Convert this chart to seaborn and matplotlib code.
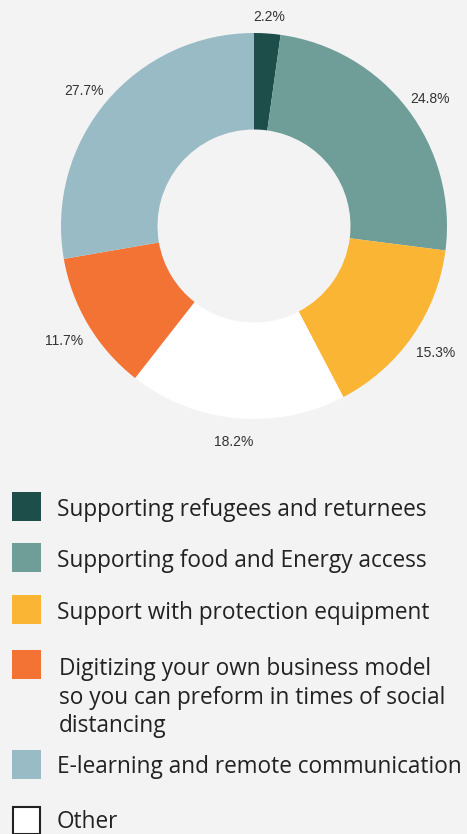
import matplotlib
matplotlib.use("Agg")
import numpy as np
import matplotlib.pyplot as plt
from matplotlib.patches import Rectangle
import seaborn as sns

# data (clockwise from top)
categories = ["Supporting refugees and returnees",
              "Supporting food and Energy access",
              "Support with protection equipment",
              "Other",
              "Digitizing your own business model",
              "E-learning and remote communication"]
shares = [2.2, 24.8, 15.3, 18.2, 11.7, 27.7]
slice_colors = ["#1d4e4a", "#6f9e99", "#fbb535", "#ffffff", "#f37335", "#98bbc6"]

# legend order and text as in the picture
legend_labels = ["Supporting refugees and returnees",
                 "Supporting food and Energy access",
                 "Support with protection equipment",
                 "Digitizing your own business model\nso you can preform in times of social\ndistancing",
                 "E-learning and remote communication",
                 "Other"]
legend_colors = ["#1d4e4a", "#6f9e99", "#fbb535", "#f37335", "#98bbc6", "#ffffff"]

sns.set_style("white")
plt.rcParams['font.family'] = ['Open Sans', 'DejaVu Sans']

bg = "#f3f3f3"
W, H = 467, 834
fig = plt.figure(figsize=(W / 100, H / 100), dpi=100, facecolor=bg)

# donut axes: centre (254, 226) px, radius 193 px
cx, cy, R = 254, 226, 193
L = 1.2
side = 2 * L * R
ax = fig.add_axes([(cx - side / 2) / W, 1 - (cy + side / 2) / H, side / W, side / H])
ax.patch.set_alpha(0)
wedges, _ = ax.pie(shares, colors=slice_colors, startangle=90, counterclock=False,
                   wedgeprops=dict(width=0.5, linewidth=0))
ax.set_xlim(-L, L)
ax.set_ylim(-L, L)
ax.set_aspect("equal")
ax.axis("off")

# percentage labels just outside the ring, pushed out by the text box
renderer = fig.canvas.get_renderer()
gap = 9 / R
for w, v in zip(wedges, shares):
    a = np.deg2rad((w.theta1 + w.theta2) / 2)
    t = ax.text(0, 0, f"{v:.1f}%", fontsize=10, color="#333333",
                family="Liberation Sans", ha="center", va="center")
    bb = t.get_window_extent(renderer)
    tw, th = bb.width / R, bb.height / R
    r = 1 + gap
    x = r * np.cos(a) + tw / 2 * np.cos(a)
    y = r * np.sin(a) + th / 2 * np.sin(a)
    if np.sin(a) < 0:
        y -= th * 0.55
    t.set_position((x, y))

# legend drawn in pixel coordinates
lax = fig.add_axes([0, 0, 1, 1])
lax.set_xlim(0, W)
lax.set_ylim(H, 0)
lax.axis("off")
lax.patch.set_alpha(0)
sq_top = [492, 543, 595, 650, 750, 806]
baseline = [516, 567, 619, 675, 773, 828]
for lab, col, top, base in zip(legend_labels, legend_colors, sq_top, baseline):
    if col == "#ffffff":
        lax.add_patch(Rectangle((13, top + 0.5), 27, 27, facecolor=col, edgecolor="#222222", linewidth=1.5))
    else:
        lax.add_patch(Rectangle((12, top), 29, 29, facecolor=col, linewidth=0))
    lines = lab.split("\n")
    x0 = 59 if len(lines) > 1 else 57
    for i, line in enumerate(lines):
        lax.text(x0, base + i * 28.5, line, fontsize=16.3, color="#222222", va="baseline", ha="left")

fig.savefig("out.png", dpi=100, facecolor=bg)
